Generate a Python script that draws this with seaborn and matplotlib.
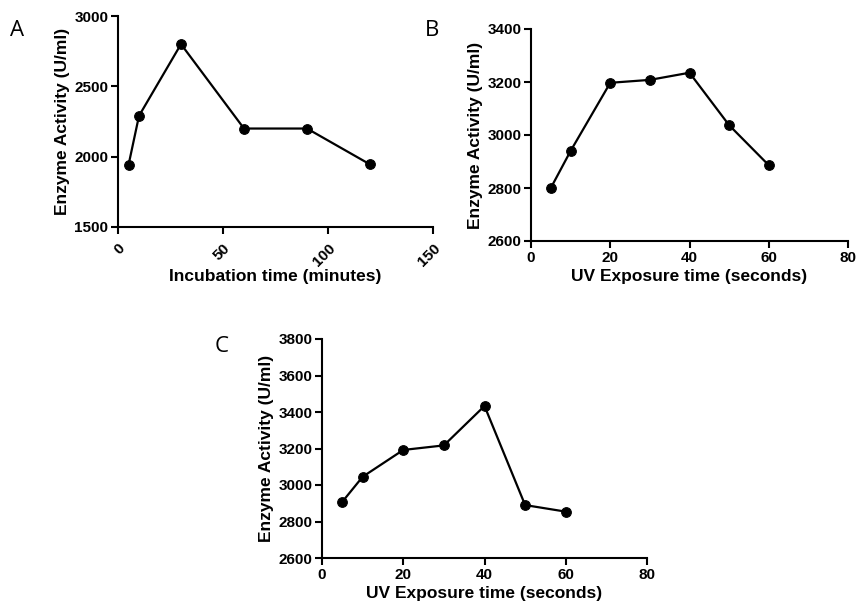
import pandas as pd
import matplotlib
matplotlib.use("Agg")
import matplotlib.pyplot as plt
import seaborn as sns

# Panel A: incubation time
incubation_min = [5, 10, 30, 60, 90, 120]
activity_a = [1940, 2290, 2800, 2200, 2200, 1945]

# Panel B: UV exposure
uv_sec_b = [5, 10, 20, 30, 40, 50, 60]
activity_b = [2800, 2940, 3197, 3208, 3235, 3037, 2886]

# Panel C: UV exposure
uv_sec_c = [5, 10, 20, 30, 40, 50, 60]
activity_c = [2908, 3045, 3192, 3217, 3433, 2890, 2854]

sns.set_style("ticks")
plt.rcParams['font.family'] = ['Liberation Sans', 'DejaVu Sans']
plt.rcParams['text.color'] = 'black'
plt.rcParams['axes.labelcolor'] = 'black'

W, H = 858, 610
fig = plt.figure(figsize=(W / 100, H / 100), dpi=100)


def make_axes(left, right, top, bottom):
    return fig.add_axes([left / W, 1 - bottom / H, (right - left) / W, (bottom - top) / H])


def draw(ax, x, y, xlim, xticks, ylim, yticks, xlabel):
    df = pd.DataFrame({"x": x, "y": y})
    sns.lineplot(data=df, x="x", y="y", ax=ax, color="black", linewidth=1.6,
                 marker="o", markersize=7, markeredgecolor="black")
    ax.set_xlim(*xlim)
    ax.set_ylim(*ylim)
    ax.set_xticks(xticks)
    ax.set_yticks(yticks)
    for s in ["top", "right"]:
        ax.spines[s].set_visible(False)
    for s in ["left", "bottom"]:
        ax.spines[s].set_linewidth(1.5)
        ax.spines[s].set_color("black")
    ax.tick_params(direction="out", length=5, width=1.5, colors="black",
                   labelsize=11, pad=2)
    for lab in ax.get_xticklabels() + ax.get_yticklabels():
        lab.set_fontweight("bold")
    ax.set_xlabel(xlabel, fontsize=12.5, fontweight="bold", labelpad=3)
    ax.set_ylabel("Enzyme Activity (U/ml)", fontsize=12.5, fontweight="bold", labelpad=3)


ax_a = make_axes(118, 433, 16, 227)
draw(ax_a, incubation_min, activity_a, (0, 150), [0, 50, 100, 150],
     (1500, 3000), [1500, 2000, 2500, 3000], "Incubation time (minutes)")
plt.setp(ax_a.get_xticklabels(), rotation=45, ha="right", rotation_mode="anchor")
ax_a.tick_params(axis="x", pad=5)
ax_a.xaxis.labelpad = 0

ax_b = make_axes(531, 848, 29, 241)
draw(ax_b, uv_sec_b, activity_b, (0, 80), [0, 20, 40, 60, 80],
     (2600, 3400), [2600, 2800, 3000, 3200, 3400], "UV Exposure time (seconds)")

ax_c = make_axes(322, 647, 339, 558)
draw(ax_c, uv_sec_c, activity_c, (0, 80), [0, 20, 40, 60, 80],
     (2600, 3800), [2600, 2800, 3000, 3200, 3400, 3600, 3800], "UV Exposure time (seconds)")

for letter, px, py in [("A", 17, 31), ("B", 432, 31), ("C", 222, 346)]:
    fig.text(px / W, 1 - py / H, letter, fontsize=16, family=["Open Sans", "DejaVu Sans"],
             ha="center", va="center")

fig.savefig("out.png", dpi=100, facecolor="white")
